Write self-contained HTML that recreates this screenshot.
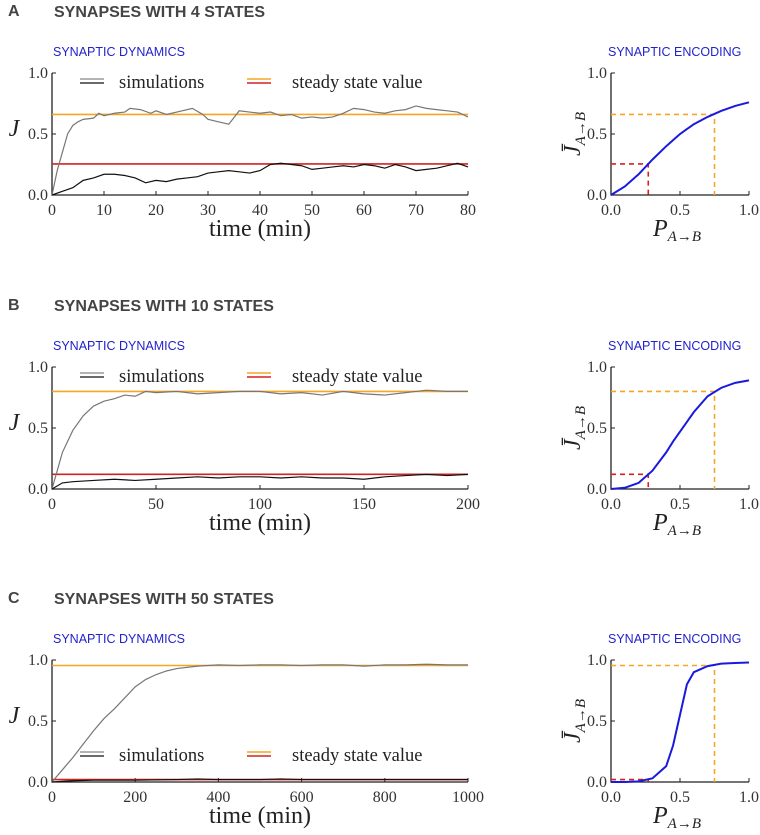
<!DOCTYPE html>
<html><head><meta charset="utf-8"><style>
body{margin:0;background:#fff}
svg{display:block}
.tk{font-family:"Liberation Serif",serif;font-size:16px;fill:#333}
.hd{font-family:"Liberation Sans",sans-serif;font-weight:bold;font-size:16px;fill:#444}
.sub{font-family:"Liberation Sans",sans-serif;font-size:12.5px;fill:#2222cc}
.lab{font-family:"Liberation Serif",serif;font-size:24px;fill:#222}
.lg{font-family:"Liberation Serif",serif;font-size:18.5px;fill:#222}
</style></head><body>
<svg id="fig" width="760" height="835" viewBox="0 0 760 835" xmlns="http://www.w3.org/2000/svg"></svg>
<script>
// Panel A data
const aGrayT=[0,1,2,3,4,5,6,8,9,10,12,14,15,17,19,20,22,24,27,29,30,32,34,36,38,40,42,44,46,48,50,52,54,56,58,60,62,64,66,68,70,72,74,76,78,80];
const aGrayV=[0,0.2,0.35,0.5,0.57,0.6,0.62,0.63,0.67,0.65,0.67,0.68,0.71,0.7,0.67,0.69,0.66,0.68,0.71,0.66,0.62,0.6,0.58,0.69,0.68,0.67,0.68,0.65,0.66,0.63,0.64,0.63,0.64,0.67,0.71,0.7,0.68,0.67,0.69,0.7,0.73,0.71,0.7,0.69,0.68,0.64];
const aBlackT=[0,2,4,6,8,10,12,14,16,18,20,22,24,26,28,30,32,34,36,38,40,42,44,46,48,50,52,54,56,58,60,62,64,66,68,70,72,74,76,78,80];
const aBlackV=[0,0.03,0.06,0.12,0.14,0.17,0.17,0.16,0.14,0.1,0.12,0.11,0.13,0.14,0.15,0.18,0.19,0.2,0.19,0.18,0.2,0.25,0.26,0.25,0.24,0.21,0.22,0.23,0.24,0.23,0.25,0.24,0.22,0.25,0.23,0.2,0.21,0.22,0.24,0.26,0.23];
const aSteady=[0.66,0.255];
const aXTicks=[0,10,20,30,40,50,60,70,80];
// Panel B data
const bGrayT=[0,5,10,15,20,25,30,35,40,45,50,60,70,80,90,100,110,120,130,140,150,160,170,180,190,200];
const bGrayV=[0,0.3,0.48,0.6,0.68,0.72,0.74,0.77,0.76,0.8,0.79,0.8,0.78,0.79,0.8,0.8,0.78,0.79,0.77,0.8,0.78,0.77,0.79,0.81,0.8,0.8];
const bBlackT=[0,5,10,20,30,40,50,60,70,80,90,100,110,120,130,140,150,160,170,180,190,200];
const bBlackV=[0,0.05,0.06,0.07,0.08,0.07,0.08,0.09,0.1,0.09,0.1,0.1,0.09,0.1,0.09,0.09,0.08,0.1,0.11,0.12,0.11,0.12];
const bSteady=[0.8,0.12];
const bXTicks=[0,50,100,150,200];
// Panel C data
const cGrayT=[0,25,50,75,100,125,150,175,200,225,250,275,300,350,400,450,500,550,600,650,700,750,800,850,900,950,1000];
const cGrayV=[0,0.1,0.2,0.31,0.42,0.52,0.6,0.69,0.78,0.84,0.88,0.91,0.93,0.95,0.96,0.955,0.96,0.96,0.955,0.96,0.96,0.95,0.96,0.96,0.965,0.96,0.96];
const cBlackT=[0,50,100,200,300,350,400,500,550,600,700,800,900,1000];
const cBlackV=[0,0.01,0.015,0.015,0.02,0.025,0.02,0.02,0.025,0.02,0.02,0.02,0.02,0.02];
const cSteady=[0.955,0.02];
const cXTicks=[0,200,400,600,800,1000];
// Encoding curves
const encP=[0,0.1,0.2,0.3,0.4,0.45,0.5,0.55,0.6,0.7,0.8,0.9,1];
const aEncJ=[0,0.07,0.17,0.29,0.4,0.45,0.5,0.54,0.58,0.64,0.69,0.73,0.76];
const bEncJ=[0,0.01,0.05,0.15,0.3,0.39,0.47,0.55,0.63,0.76,0.83,0.87,0.89];
const cEncJ=[0,0,0.005,0.03,0.13,0.3,0.55,0.8,0.9,0.95,0.97,0.975,0.98];
const markP=[0.27,0.75];
const yTicks=[0,0.5,1];
const encXTicks=[0,0.5,1];

const NS="http://www.w3.org/2000/svg";
const svg=document.getElementById('fig');
function mk(tag,attrs,parent,txt){const e=document.createElementNS(NS,tag);for(const k in attrs)e.setAttribute(k,attrs[k]);if(txt!==undefined)e.textContent=txt;(parent||svg).appendChild(e);return e;}
const fmt=v=>v.toFixed(1);

function panel(letter,title,top,gT,gV,bT,bV,steady,xTicks,xmax,encJ,legendY){
  const g=mk('g',{});
  
  
  const t1=mk('text',{x:8,y:top-57,class:'hd'},g,letter);
  
  const t2=mk('text',{x:54,y:top-56,class:'hd'},g,title);
  
  const t3=mk('text',{x:53,y:top-17,class:'sub'},g,'SYNAPTIC DYNAMICS');
  
  const t4=mk('text',{x:608,y:top-17,class:'sub'},g,'SYNAPTIC ENCODING');
  
  const L=52,R=468,H=122,bot=top+H;
  const sx=v=>L+(v/xmax)*(R-L), sy=v=>bot-v*H;
  const ax=mk('path',{d:`M${L},${top} V${bot} H${R}`,fill:'none',stroke:'#222','stroke-width':1.3},g);
  
  yTicks.forEach(v=>{mk('line',{x1:L,x2:L+4,y1:sy(v),y2:sy(v),stroke:'#222'},g);
    const tl=mk('text',{x:L-4,y:sy(v)+5,class:'tk','text-anchor':'end'},g,fmt(v));
    });
  xTicks.forEach(v=>{mk('line',{x1:sx(v),x2:sx(v),y1:bot,y2:bot-4,stroke:'#222'},g);
    const tl=mk('text',{x:sx(v),y:bot+20,class:'tk','text-anchor':'middle'},g,String(v));
    });
  const xl=mk('text',{x:(L+R)/2,y:bot+41,class:'lab','text-anchor':'middle'},g,'time (min)');
  
  const yl=mk('text',{x:14,y:top+H/2+2,class:'lab','font-style':'italic','text-anchor':'middle'},g,'J');
  
  const so=mk('line',{x1:L,x2:R,y1:sy(steady[0]),y2:sy(steady[0]),stroke:'#f5a623','stroke-width':1.6},g);
  
  const sr=mk('line',{x1:L,x2:R,y1:sy(steady[1]),y2:sy(steady[1]),stroke:'#d62020','stroke-width':1.6},g);
  
  const pg=mk('polyline',{points:gT.map((t,i)=>sx(t)+','+sy(gV[i])).join(' '),fill:'none',stroke:'#777','stroke-width':1.2},g);
  
  const pb=mk('polyline',{points:bT.map((t,i)=>sx(t)+','+sy(bV[i])).join(' '),fill:'none',stroke:'#111','stroke-width':1.2},g);
  
  const lg=mk('g',{},g);
  mk('line',{x1:80,x2:104,y1:legendY-3,y2:legendY-3,stroke:'#888','stroke-width':1.3},lg);
  mk('line',{x1:80,x2:104,y1:legendY+1,y2:legendY+1,stroke:'#111','stroke-width':1.3},lg);
  mk('text',{x:119,y:legendY+6,class:'lg'},lg,'simulations');
  mk('line',{x1:247,x2:271,y1:legendY-3,y2:legendY-3,stroke:'#f5a623','stroke-width':1.6},lg);
  mk('line',{x1:247,x2:271,y1:legendY+1,y2:legendY+1,stroke:'#d62020','stroke-width':1.6},lg);
  mk('text',{x:292,y:legendY+6,class:'lg'},lg,'steady state value');
  const EL=611,ER=749;
  const ex=v=>EL+v*(ER-EL);
  const ea=mk('path',{d:`M${EL},${top} V${bot} H${ER}`,fill:'none',stroke:'#222','stroke-width':1.3},g);
  
  yTicks.forEach(v=>{mk('line',{x1:EL,x2:EL+4,y1:sy(v),y2:sy(v),stroke:'#222'},g);
    mk('text',{x:EL-4,y:sy(v)+5,class:'tk','text-anchor':'end'},g,fmt(v));});
  encXTicks.forEach(v=>{mk('line',{x1:ex(v),x2:ex(v),y1:bot,y2:bot-4,stroke:'#222'},g);
    mk('text',{x:ex(v),y:bot+20,class:'tk','text-anchor':'middle'},g,fmt(v));});
  const el=mk('text',{x:653,y:bot+41,class:'lab','font-style':'italic'},g,'');
  
  mk('tspan',{},el,'P');mk('tspan',{'font-size':'15','dy':'5'},el,'A→B');
  const ey=mk('text',{transform:`translate(580,${top+H/2}) rotate(-90)`,class:'lab','font-style':'italic','text-anchor':'middle'},g,'');
  
  mk('tspan',{},ey,'J̄');mk('tspan',{'font-size':'15','dy':'5'},ey,'A→B');
  const d1=mk('path',{d:`M${EL},${sy(steady[1])} H${ex(markP[0])} V${bot}`,fill:'none',stroke:'#d62020','stroke-width':1.6,'stroke-dasharray':'5,4'},g);
  
  const d2=mk('path',{d:`M${EL},${sy(steady[0])} H${ex(markP[1])} V${bot}`,fill:'none',stroke:'#f5a623','stroke-width':1.6,'stroke-dasharray':'5,4'},g);
  
  const ec=mk('polyline',{points:encP.map((p,i)=>ex(p)+','+sy(encJ[i])).join(' '),fill:'none',stroke:'#1a1adf','stroke-width':2},g);
  
}
panel('A','SYNAPSES WITH 4 STATES',73,aGrayT,aGrayV,aBlackT,aBlackV,aSteady,aXTicks,80,aEncJ,82);
panel('B','SYNAPSES WITH 10 STATES',367,bGrayT,bGrayV,bBlackT,bBlackV,bSteady,bXTicks,200,bEncJ,376);
panel('C','SYNAPSES WITH 50 STATES',660,cGrayT,cGrayV,cBlackT,cBlackV,cSteady,cXTicks,1000,cEncJ,755);
</script>
</body></html>
